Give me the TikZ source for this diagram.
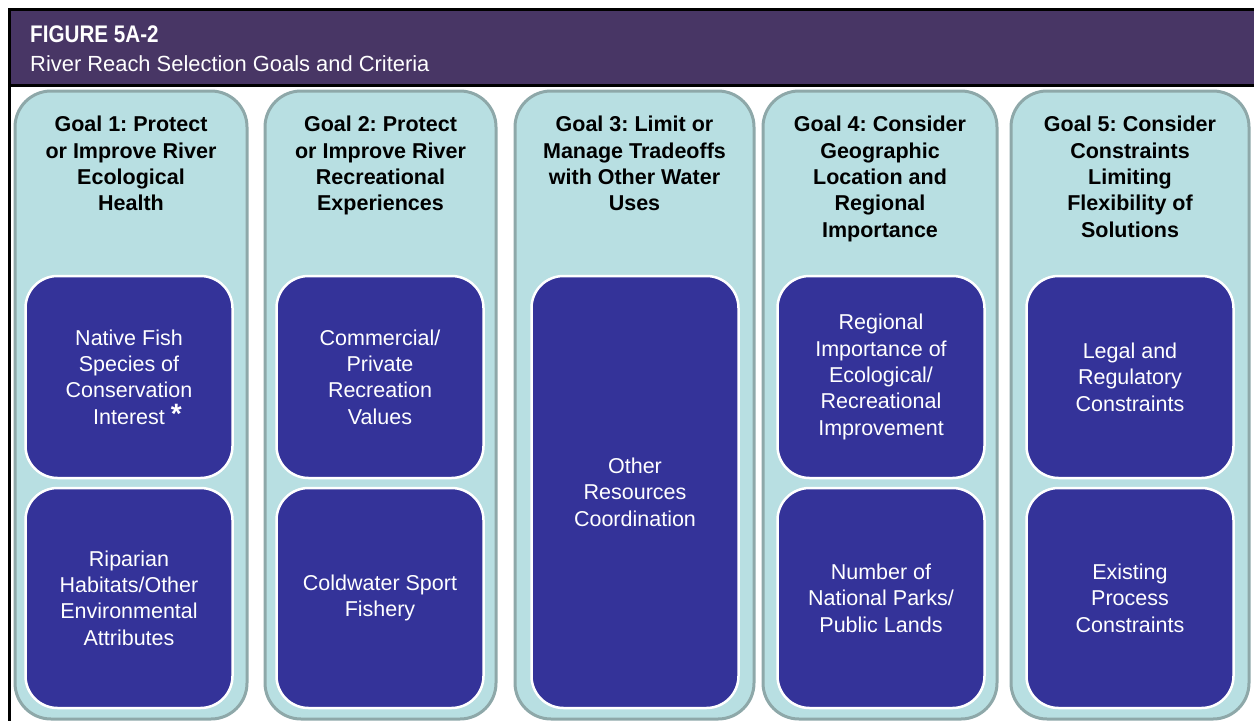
\documentclass[tikz,border=0pt]{standalone}
\usepackage{fontspec}
\setmainfont{Liberation Sans}
\newfontfamily\headfont{Liberation Sans}[FakeStretch=0.86]
\definecolor{headpurple}{HTML}{483665}
\definecolor{colfill}{HTML}{B8DFE2}
\definecolor{colline}{HTML}{8EA8A9}
\definecolor{critblue}{HTML}{343399}
\frenchspacing
\begin{document}
\begin{tikzpicture}[x=1pt,y=-1pt,
  goalcol/.style={draw=colline, line width=3pt, fill=colfill, rounded corners=36pt, inner sep=0pt},
  crit/.style={draw=white, line width=2.5pt, fill=critblue, rounded corners=32pt,
    minimum width=207pt, text=white, align=center, inner sep=0pt,
    font=\fontsize{21.5}{26.4}\selectfont},
  goaltitle/.style={align=center, anchor=north, inner sep=0pt,
    font=\bfseries\fontsize{21.5}{26.4}\selectfont}]
\useasboundingbox (0,0) rectangle (1254,721);

% header band with black frame
\fill[black] (8,8) rectangle (1254,87);
\fill[headpurple] (11,11) rectangle (1254,84);
\fill[black] (8,87) rectangle (11,721);
\node[anchor=base west, inner sep=0pt, text=white,
  font=\headfont\bfseries\fontsize{24}{28}\selectfont] (fig) at (30,42) {FIGURE 5A-2};
\node[anchor=base west, inner sep=0pt, text=white,
  font=\fontsize{21.9}{25}\selectfont] (caption) at (30,71.5) {River Reach Selection Goals and Criteria};

% goal columns
\node[goalcol, minimum width=232pt, minimum height=628pt] (g1) at (131,405) {};
\node[goalcol, minimum width=231pt, minimum height=628pt] (g2) at (380.5,405) {};
\node[goalcol, minimum width=239pt, minimum height=628pt] (g3) at (634.5,405) {};
\node[goalcol, minimum width=234pt, minimum height=628pt] (g4) at (880,405) {};
\node[goalcol, minimum width=238pt, minimum height=628pt] (g5) at (1130,405) {};

% goal titles
\node[goaltitle] (t1) at (131,116) {Goal 1: Protect\\or Improve River\\Ecological\\Health};
\node[goaltitle] (t2) at (380.5,116) {Goal 2: Protect\\or Improve River\\Recreational\\Experiences};
\node[goaltitle] (t3) at (634.5,116) {Goal 3: Limit or\\Manage Tradeoffs\\with Other Water\\Uses};
\node[goaltitle] (t4) at (880,116) {Goal 4: Consider\\Geographic\\Location and\\Regional\\Importance};
\node[goaltitle] (t5) at (1130,116) {Goal 5: Consider\\Constraints\\Limiting\\Flexibility of\\Solutions};

% criteria boxes
\node[crit, minimum height=202pt] (c1a) at (129,377) {Native Fish\\Species of\\Conservation\\Interest\rlap{\hspace{6pt}\raisebox{1pt}{\bfseries\fontsize{28}{28}\selectfont *}}};
\node[crit, minimum height=220pt] (c1b) at (129,598) {Riparian\\Habitats/Other\\Environmental\\Attributes};
\node[crit, minimum height=202pt] (c2a) at (380,377) {Commercial/\\Private\\Recreation\\Values};
\node[crit, minimum height=220pt] (c2b) at (380,598) {Coldwater Sport\\Fishery};
\node[crit, minimum height=432pt] (c3) at (635,492) {Other\\Resources\\Coordination};
\node[crit, minimum height=202pt] (c4a) at (881,377) {Regional\\Importance of\\Ecological/\\Recreational\\Improvement};
\node[crit, minimum height=220pt] (c4b) at (881,598) {Number of\\National Parks/\\Public Lands};
\node[crit, minimum height=202pt] (c5a) at (1130,377) {Legal and\\Regulatory\\Constraints};
\node[crit, minimum height=220pt] (c5b) at (1130,598) {Existing\\Process\\Constraints};
\end{tikzpicture}
\end{document}
